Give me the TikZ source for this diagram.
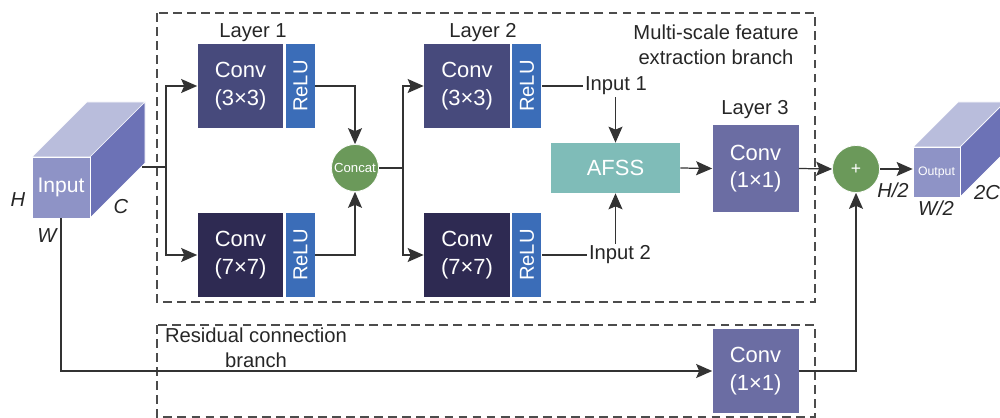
\documentclass[tikz,border=0pt]{standalone}
\usepackage{fontspec}
\setmainfont{Liberation Sans}
\usepackage{graphicx}
\usetikzlibrary{positioning,arrows.meta}
\definecolor{convA}{HTML}{474A7C}
\definecolor{convB}{HTML}{2E2A52}
\definecolor{convC}{HTML}{6B6DA3}
\definecolor{reluC}{HTML}{3B6DB8}
\definecolor{greenC}{HTML}{6B995A}
\definecolor{afssC}{HTML}{7FBCB8}
\definecolor{cubeF}{HTML}{8E93C6}
\definecolor{cubeT}{HTML}{B9BDDC}
\definecolor{cubeS}{HTML}{6C72B6}
\definecolor{lineC}{HTML}{333333}
\begin{document}
\begin{tikzpicture}[x=0.02cm,y=-0.02cm,
  conv/.style={fill=#1,text=white,minimum width=1.72cm,minimum height=1.68cm,inner sep=0pt,align=center,font=\fontsize{12.5}{15.5}\selectfont},
  relu/.style={fill=reluC,text=white,minimum width=0.58cm,minimum height=1.68cm,inner sep=0pt,font=\fontsize{11.5}{13}\selectfont},
  dot/.style={circle,fill=greenC,draw=white,text=white,minimum size=0.94cm,inner sep=0pt},
  lbl/.style={font=\fontsize{11.5}{14}\selectfont,text=black!85},
  ital/.style={font=\fontsize{11.5}{14}\selectfont\itshape,text=black!85},
  wire/.style={draw=lineC,line width=0.7pt},
  arr/.style={wire,-{Stealth[length=3.2mm,width=2.8mm,inset=0.6mm]}},
  branch/.style={draw=black!70,line width=0.8pt,dash pattern=on 5pt off 3pt}]
  \useasboundingbox (0,0) rectangle (1000,418);

  % 破線の枠
  \draw[branch] (157,13) rectangle (815,302);
  \draw[branch] (157,325) rectangle (815,417);
  \node[lbl,align=center] (tb) at (716,45) {Multi-scale feature\\extraction branch};
  \node[lbl,align=center] (bb) at (256,348) {Residual connection\\branch};

  % 入力
  \fill[cubeT,draw=white,line width=0.4pt] (32,157) -- (87,102) -- (145,102) -- (90,157) -- cycle;
  \fill[cubeS,draw=white,line width=0.4pt] (90,157) -- (145,102) -- (145,163) -- (90,218) -- cycle;
  \node[fill=cubeF,draw=white,line width=0.4pt,text=white,minimum width=1.16cm,minimum height=1.22cm,inner sep=0pt,font=\fontsize{12}{14}\selectfont] (in) at (61,187.5) {Input};
  \node[ital] (hh) at (18,200) {H};
  \node[ital] (cc0) at (121,207) {C};
  \node[ital] (ww) at (47,236) {W};
  \coordinate (e0) at (142,167);
  \coordinate (s1) at (166,167);

  % Layer 1
  \node[conv=convA] (c11) at (240.5,86) {Conv\\(3×3)};
  \node[relu,right=1pt of c11] (r11) {\rotatebox{90}{ReLU}};
  \node[conv=convB] (c12) at (240.5,255) {Conv\\(7×7)};
  \node[relu,right=1pt of c12] (r12) {\rotatebox{90}{ReLU}};
  \node[lbl] (l1) at (253,33) {Layer 1};
  \node[dot,font=\fontsize{7.5}{8}\selectfont] (cat) at (355,168) {Concat};
  \coordinate (s2) at (403,168);

  % Layer 2
  \node[conv=convA] (c21) at (467,86) {Conv\\(3×3)};
  \node[relu,right=1pt of c21] (r21) {\rotatebox{90}{ReLU}};
  \node[conv=convB] (c22) at (467,255) {Conv\\(7×7)};
  \node[relu,right=1pt of c22] (r22) {\rotatebox{90}{ReLU}};
  \node[lbl] (l2) at (483,33) {Layer 2};
  \node[lbl,anchor=west,inner sep=1pt] (i1) at (583,86) {Input 1};
  \node[lbl,anchor=west,inner sep=1pt] (i2) at (587,255) {Input 2};
  \node[fill=afssC,text=white,minimum width=2.58cm,minimum height=1.0cm,inner sep=0pt,font=\fontsize{12.5}{15}\selectfont] (afss) at (615.5,168) {AFSS};

  % Layer 3
  \node[conv=convC,minimum height=1.74cm] (c3) at (755.5,168.5) {Conv\\(1×1)};
  \node[lbl] (l3) at (755,110) {Layer 3};
  \node[dot,font=\fontsize{10}{12}\selectfont] (plus) at (856,169) {+};
  \node[conv=convC] (c4) at (755.5,371) {Conv\\(1×1)};

  % 出力
  \fill[cubeT,draw=white,line width=0.4pt] (913,147) -- (958,102) -- (1005,102) -- (960,147) -- cycle;
  \fill[cubeS,draw=white,line width=0.4pt] (960,147) -- (1005,102) -- (1005,152) -- (960,197) -- cycle;
  \node[fill=cubeF,draw=white,line width=0.4pt,text=white,minimum width=0.94cm,minimum height=1.0cm,inner sep=0pt,font=\fontsize{7}{8}\selectfont] (out) at (936.5,172) {Output};
  \node[ital] (h2) at (893,190) {H/2};
  \node[ital] (w2) at (936,208) {W/2};
  \node[ital] (c2) at (987,193) {2C};

  % 接続
  \draw[wire] (e0) -- (s1);
  \draw[arr] (s1) |- (c11.west);
  \draw[arr] (s1) |- (c12.west);
  \draw[arr] (r11.east) -| (cat.north);
  \draw[arr] (r12.east) -| (cat.south);
  \draw[wire] (cat.east) -- (s2);
  \draw[arr] (s2) |- (c21.west);
  \draw[arr] (s2) |- (c22.west);
  \draw[wire] (r21.east) -- (i1.west);
  \draw[wire] (r22.east) -- (i2.west);
  \draw[arr] (i1.south -| afss.north) -- (afss.north);
  \draw[arr] (i2.north -| afss.south) -- (afss.south);
  \draw[arr] (afss.east) -- (c3.west);
  \draw[arr] (c3.east) -- (plus.west);
  \draw[arr] (plus.east) -- (plus.east -| out.west);
  \draw[arr] (in.south) |- (c4.west);
  \draw[arr] (c4.east) -| (plus.south);
\end{tikzpicture}
\end{document}
